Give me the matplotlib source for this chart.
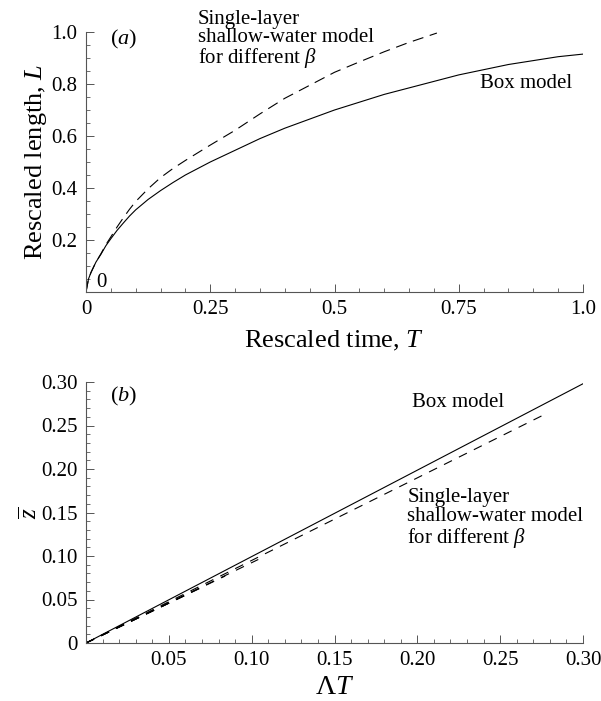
import matplotlib
matplotlib.use("Agg")
import matplotlib.pyplot as plt
from matplotlib.ticker import MultipleLocator, FixedLocator, FixedFormatter

plt.rcParams["font.family"] = ["Liberation Serif", "DejaVu Serif"]
plt.rcParams["mathtext.fontset"] = "custom"
plt.rcParams["mathtext.rm"] = "Liberation Serif"
plt.rcParams["mathtext.it"] = "Liberation Serif:italic"
plt.rcParams["mathtext.bf"] = "Liberation Serif:bold"

# (a) front position L against rescaled time T
box_T = [0.0, 0.005, 0.01, 0.02, 0.03, 0.04, 0.05, 0.0625, 0.075, 0.0875, 0.1, 0.125, 0.15,
         0.175, 0.2, 0.25, 0.3, 0.35, 0.4, 0.45, 0.5, 0.55, 0.6, 0.65, 0.7, 0.75, 0.8, 0.85,
         0.9, 0.95, 1.0]
box_L = [0.0, 0.05, 0.075, 0.115, 0.145, 0.178, 0.205, 0.237, 0.265, 0.292, 0.316, 0.356, 0.39,
         0.421, 0.45, 0.50, 0.545, 0.59, 0.63, 0.665, 0.70, 0.73, 0.76, 0.785, 0.81, 0.835,
         0.855, 0.875, 0.89, 0.905, 0.915]
sw_T = [0.0, 0.005, 0.01, 0.02, 0.03, 0.04, 0.05, 0.0625, 0.075, 0.0875, 0.1, 0.125, 0.15,
        0.175, 0.2, 0.25, 0.3, 0.35, 0.4, 0.45, 0.5, 0.55, 0.6, 0.65, 0.706]
sw_L = [0.0, 0.05, 0.075, 0.115, 0.147, 0.182, 0.212, 0.25, 0.285, 0.318, 0.348, 0.397, 0.44,
        0.475, 0.506, 0.565, 0.622, 0.685, 0.745, 0.795, 0.845, 0.885, 0.924, 0.96, 0.996]

# (b) mean height against Lambda*T
box_AT = [0.0, 0.30]
box_z = [0.0, 0.298]
sw_end_AT = [0.275, 0.104, 0.084, 0.070, 0.060]
sw_end_z = [0.261, 0.096, 0.077, 0.064, 0.055]

a_xticks = [0, 0.25, 0.5, 0.75, 1.0]
a_xlabels = ["0", "0.25", "0.5", "0.75", "1.0"]
a_yticks = [0.2, 0.4, 0.6, 0.8, 1.0]
a_ylabels = ["0.2", "0.4", "0.6", "0.8", "1.0"]
b_xticks = [0.05, 0.10, 0.15, 0.20, 0.25, 0.30]
b_xlabels = ["0.05", "0.10", "0.15", "0.20", "0.25", "0.30"]
b_yticks = [0, 0.05, 0.10, 0.15, 0.20, 0.25, 0.30]
b_ylabels = ["0", "0.05", "0.10", "0.15", "0.20", "0.25", "0.30"]

W, H = 601, 701
fig = plt.figure(figsize=(W / 100, H / 100), dpi=100)


def rect(left, right, top, bottom):
    return [left / W, 1 - bottom / H, (right - left) / W, (bottom - top) / H]


ax_a = fig.add_axes(rect(86, 583, 32, 292))
ax_b = fig.add_axes(rect(86, 583, 382, 643))

lw = 0.8
tick_fs = 15
text_fs = 15


def style(ax):
    for s in ("top", "right"):
        ax.spines[s].set_visible(False)
    for s in ("left", "bottom"):
        ax.spines[s].set_linewidth(0.8)
        ax.spines[s].set_color("#555555")
    ax.tick_params(which="major", direction="in", length=6, width=0.7,
                   labelsize=tick_fs, color="#555555", pad=6)
    ax.tick_params(which="minor", direction="in", length=3, width=0.6, color="#555555")


# panel (a)
ax_a.plot(box_T, box_L, color="black", lw=lw)
ax_a.plot(sw_T, sw_L, color="black", lw=lw, dashes=(10, 6))
ax_a.set_xlim(0, 1.0)
ax_a.set_ylim(0, 1.0)
style(ax_a)
ax_a.xaxis.set_major_locator(FixedLocator(a_xticks))
ax_a.xaxis.set_major_formatter(FixedFormatter(a_xlabels))
ax_a.xaxis.set_minor_locator(MultipleLocator(0.05))
ax_a.yaxis.set_major_locator(FixedLocator(a_yticks))
ax_a.yaxis.set_major_formatter(FixedFormatter(a_ylabels))
ax_a.yaxis.set_minor_locator(MultipleLocator(0.05))
ax_a.set_xlabel(r"Rescaled time, $T$", fontsize=19, labelpad=7)
ax_a.set_ylabel(r"Rescaled length, $L$", fontsize=19, labelpad=2)
ax_a.text(0.048, 0.97, r"($a$)", fontsize=text_fs + 1, va="center", ha="left")
ax_a.text(0.02, 0.035, "0", fontsize=tick_fs, va="center", ha="left")
ax_a.text(0.225, 1.085, "Single-layer\nshallow-water model\n" + r"for different $\beta$",
          fontsize=text_fs, va="top", ha="left", linespacing=0.95, clip_on=False)
ax_a.text(0.793, 0.80, "Box model", fontsize=text_fs, va="center", ha="left")

# panel (b)
ax_b.plot(box_AT, box_z, color="black", lw=lw)
for xe, ye in zip(sw_end_AT, sw_end_z):
    ax_b.plot([0.0, xe], [0.0, ye], color="black", lw=lw, dashes=(8, 7))
ax_b.set_xlim(0, 0.30)
ax_b.set_ylim(0, 0.30)
style(ax_b)
ax_b.xaxis.set_major_locator(FixedLocator(b_xticks))
ax_b.xaxis.set_major_formatter(FixedFormatter(b_xlabels))
ax_b.xaxis.set_minor_locator(MultipleLocator(0.01))
ax_b.yaxis.set_major_locator(FixedLocator(b_yticks))
ax_b.yaxis.set_major_formatter(FixedFormatter(b_ylabels))
ax_b.yaxis.set_minor_locator(MultipleLocator(0.01))
ax_b.set_xlabel(r"$\Lambda T$", fontsize=20, labelpad=3)
ax_b.set_ylabel(r"$\overline{z}$", fontsize=18, labelpad=0)
ax_b.text(0.0145, 0.283, r"($b$)", fontsize=text_fs + 1, va="center", ha="left")
ax_b.text(0.197, 0.277, "Box model", fontsize=text_fs, va="center", ha="left")
ax_b.text(0.194, 0.178, "Single-layer\nshallow-water model\n" + r"for different $\beta$",
          fontsize=text_fs, va="top", ha="left", linespacing=1.0)

fig.savefig("out.png", dpi=100)
